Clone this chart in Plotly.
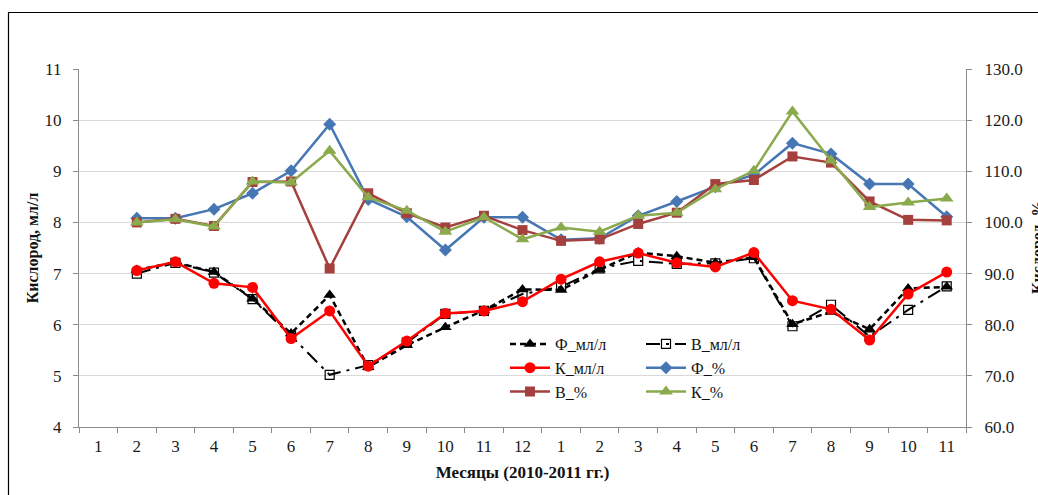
import plotly.graph_objects as go

# Month labels along the x axis (Jan 2010 .. Nov 2011)
months = ["1", "2", "3", "4", "5", "6", "7", "8", "9", "10", "11", "12",
          "1", "2", "3", "4", "5", "6", "7", "8", "9", "10", "11"]
# Observations start from the second month
obs_idx = list(range(1, 23))

# Dissolved oxygen, ml/l
f_ml = [7.07, 7.22, 7.03, 6.51, 5.83, 6.58, 5.17, 5.60, 5.95, 6.28, 6.69,
        6.68, 7.08, 7.41, 7.34, 7.21, 7.32, 6.01, 6.25, 5.91, 6.71, 6.74]
v_ml = [7.00, 7.21, 7.02, 6.50, 5.78, 5.02, 5.21, 5.65, 6.21, 6.27, 6.60,
        6.74, 7.10, 7.25, 7.19, 7.20, 7.30, 5.97, 6.39, 5.77, 6.29, 6.75]
k_ml = [7.06, 7.23, 6.81, 6.73, 5.73, 6.27, 5.19, 5.68, 6.22, 6.27, 6.45,
        6.89, 7.23, 7.40, 7.21, 7.13, 7.41, 6.47, 6.30, 5.70, 6.60, 7.03]

# Oxygen saturation, %
f_pct = [100.8, 100.8, 102.6, 105.7, 110.1, 119.2, 104.5, 101.1, 94.6, 101.0, 101.0,
         96.6, 96.9, 101.3, 104.1, 107.0, 109.3, 115.5, 113.4, 107.5, 107.5, 101.1]
v_pct = [100.0, 100.7, 99.3, 107.9, 108.0, 91.0, 105.7, 101.8, 99.0, 101.3, 98.5,
         96.4, 96.7, 99.7, 101.9, 107.5, 108.3, 112.9, 111.7, 104.1, 100.5, 100.4]
k_pct = [100.0, 100.6, 99.2, 108.0, 107.8, 114.0, 104.9, 102.3, 98.2, 101.0, 96.7,
         99.0, 98.2, 101.3, 101.9, 106.5, 110.1, 121.7, 112.1, 103.0, 103.9, 104.7]

W, H = 1038, 495
L, R, T, B = 79, 72, 69, 68
PW, PH = W - L - R, H - T - B
SERIF = "Liberation Serif, Times New Roman, serif"

BLUE = "#4677B4"
BROWN = "#A4403D"
GREEN = "#8BAA4E"

fig = go.Figure()

fig.add_trace(go.Scatter(
    x=obs_idx, y=f_ml, name="Ф_мл/л", mode="lines+markers",
    line=dict(color="black", width=2.5, dash="6px,4px"),
    marker=dict(symbol="triangle-up", size=11, color="black"),
    legend="legend"))
fig.add_trace(go.Scatter(
    x=obs_idx, y=v_ml, name="В_мл/л", mode="lines+markers",
    line=dict(color="black", width=2, dash="14px,6px,3px,6px"),
    marker=dict(symbol="square-open", size=9, color="black",
                line=dict(width=1.2, color="black")),
    legend="legend2"))
fig.add_trace(go.Scatter(
    x=obs_idx, y=k_ml, name="К_мл/л", mode="lines+markers",
    line=dict(color="#FF0000", width=2.5),
    marker=dict(symbol="circle", size=11, color="#FF0000"),
    legend="legend"))
fig.add_trace(go.Scatter(
    x=obs_idx, y=f_pct, name="Ф_%", mode="lines+markers", yaxis="y2",
    line=dict(color=BLUE, width=2.5),
    marker=dict(symbol="diamond", size=10, color=BLUE),
    legend="legend2"))
fig.add_trace(go.Scatter(
    x=obs_idx, y=v_pct, name="В_%", mode="lines+markers", yaxis="y2",
    line=dict(color=BROWN, width=2.5),
    marker=dict(symbol="square", size=10, color=BROWN),
    legend="legend"))
fig.add_trace(go.Scatter(
    x=obs_idx, y=k_pct, name="К_%", mode="lines+markers", yaxis="y2",
    line=dict(color=GREEN, width=2.5),
    marker=dict(symbol="triangle-up", size=12, color=GREEN),
    legend="legend2"))

axis_line = "#8A8A8A"
tick_font = dict(family=SERIF, size=17, color="#1A1A1A")

legend_common = dict(
    bgcolor="rgba(0,0,0,0)", borderwidth=0, itemwidth=40,
    font=dict(family=SERIF, size=16, color="#111"),
    tracegroupgap=0, yanchor="top", xanchor="left",
    itemclick=False, itemdoubleclick=False,
)

fig.update_layout(
    width=W, height=H,
    margin=dict(l=L, r=R, t=T, b=B, autoexpand=False),
    paper_bgcolor="white", plot_bgcolor="white",
    showlegend=True,
    legend=dict(x=(505 - L) / PW, y=(427 - 327) / PH, **legend_common),
    legend2=dict(x=(641 - L) / PW, y=(427 - 327) / PH, **legend_common),
    xaxis=dict(
        range=[-0.5, 22.5], tickmode="array", tickvals=list(range(23)), ticktext=months,
        ticks="", showgrid=False, zeroline=False,
        showline=True, linecolor=axis_line, linewidth=1.3,
        tickfont=tick_font, ticklabelstandoff=3,
        minor=dict(tickmode="array", tickvals=[i - 0.5 for i in range(24)],
                   ticks="outside", ticklen=5, tickcolor=axis_line, tickwidth=1,
                   showgrid=False),
        title=dict(text="<b>Месяцы (2010-2011 гг.)</b>",
                   font=dict(family=SERIF, size=17, color="#111"), standoff=11),
    ),
    yaxis=dict(
        range=[4, 11], dtick=1, tickmode="linear", tick0=4,
        showgrid=True, gridcolor="#D9D9D9", gridwidth=1, zeroline=False,
        showline=True, linecolor=axis_line, linewidth=1.3,
        ticks="outside", ticklen=5, tickcolor=axis_line,
        tickfont=tick_font, ticklabelstandoff=8,
        title=dict(text="<b>Кислород, мл/л</b>",
                   font=dict(family=SERIF, size=16, color="#111"), standoff=1),
    ),
    yaxis2=dict(
        range=[60, 130], dtick=10, tickmode="linear", tick0=60, tickformat=".1f",
        overlaying="y", side="right", showgrid=False, zeroline=False,
        showline=True, linecolor=axis_line, linewidth=1.3,
        ticks="outside", ticklen=5, tickcolor=axis_line,
        tickfont=tick_font, ticklabelstandoff=9,
    ),
    annotations=[dict(
        text="<b>Кислород, %</b>", textangle=-90, showarrow=False,
        xref="paper", yref="paper",
        x=(1038 - L) / PW, y=0.5, xanchor="center", yanchor="middle",
        font=dict(family=SERIF, size=16, color="#111"),
    )],
    shapes=[dict(
        type="rect", xref="paper", yref="paper", layer="above",
        x0=(8.5 - L) / PW, x1=(1060 - L) / PW,
        y0=(427 - 520) / PH, y1=(427 - 12.5) / PH,
        line=dict(color="black", width=1.2), fillcolor="rgba(0,0,0,0)",
    )],
)

fig.write_html("out.html")
